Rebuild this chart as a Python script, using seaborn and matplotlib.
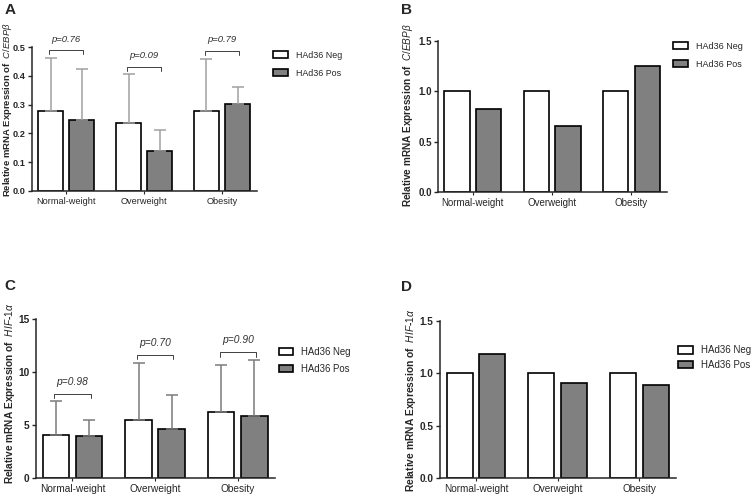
import matplotlib
matplotlib.use("Agg")
import matplotlib.pyplot as plt
import seaborn as sns
import pandas as pd
import numpy as np

groups = ["Normal-weight", "Overweight", "Obesity"]
status = ["HAd36 Neg", "HAd36 Pos"]

# C/EBPb mRNA, mean and SD (panel A)
cebpb_neg_mean = [0.277, 0.237, 0.277]
cebpb_neg_sd = [0.186, 0.168, 0.183]
cebpb_pos_mean = [0.248, 0.140, 0.302]
cebpb_pos_sd = [0.177, 0.073, 0.060]
cebpb_p = ["0.76", "0.09", "0.79"]

# C/EBPb fold change (panel B)
cebpb_neg_fold = [1.0, 1.0, 1.0]
cebpb_pos_fold = [0.82, 0.66, 1.25]

# HIF-1a mRNA, mean and SD (panel C)
hif_neg_mean = [4.02, 5.46, 6.21]
hif_neg_sd = [3.20, 5.43, 4.49]
hif_pos_mean = [3.92, 4.61, 5.84]
hif_pos_sd = [1.57, 3.23, 5.27]
hif_p = ["0.98", "0.70", "0.90"]

# HIF-1a fold change (panel D)
hif_neg_fold = [1.0, 1.0, 1.0]
hif_pos_fold = [1.18, 0.91, 0.89]

sns.set_style("ticks")
plt.rcParams["font.family"] = ["Liberation Sans", "DejaVu Sans"]
plt.rcParams["mathtext.fontset"] = "custom"
plt.rcParams["mathtext.it"] = "Liberation Sans:italic"
plt.rcParams["mathtext.rm"] = "Liberation Sans"

W, H = 753, 498
fig = plt.figure(figsize=(W / 100, H / 100), dpi=100)
palette = {"HAd36 Neg": "white", "HAd36 Pos": "#808080"}


def make_axes(left, bottom, width, height):
    return fig.add_axes([left / W, 1 - bottom / H, width / W, height / H])


def long_frame(neg, pos):
    rows = []
    for g, v in zip(groups, neg):
        rows.append({"group": g, "status": status[0], "value": v})
    for g, v in zip(groups, pos):
        rows.append({"group": g, "status": status[1], "value": v})
    return pd.DataFrame(rows)


def draw_panel(ax, neg, pos, ymax, yticks, fmt, ylabel, label_xy, fs, lab_fs,
               leg_fs, legend_xy, leg_space):
    df = long_frame(neg, pos)
    sns.barplot(data=df, x="group", y="value", hue="status", palette=palette,
                edgecolor="black", linewidth=1.2, gap=0.2, width=0.8,
                errorbar=None, ax=ax)
    ax.set_xlim(-0.44, 2.45)
    ax.set_ylim(0, ymax)
    ax.set_yticks(yticks)
    ax.set_yticklabels([fmt.format(t) for t in yticks], fontweight="bold", fontsize=fs)
    ax.tick_params(axis="x", length=2.2, width=0.8, labelsize=fs, pad=2)
    ax.tick_params(axis="y", length=3, width=1, pad=1.5)
    ax.set_xlabel("")
    ax.set_ylabel(ylabel, fontweight="bold", fontsize=lab_fs)
    ax.yaxis.set_label_coords(*label_xy)
    sns.despine(ax=ax)
    for sp in ["left", "bottom"]:
        ax.spines[sp].set_linewidth(1.1)
    handles, labels = ax.get_legend_handles_labels()
    ax.legend(handles, labels, frameon=False, loc="upper left",
              bbox_to_anchor=legend_xy, fontsize=leg_fs, handlelength=10.5 / leg_fs,
              handleheight=0.8, handletextpad=5.8 / leg_fs, labelspacing=leg_space,
              borderaxespad=0)
    return ax


def add_errors(ax, neg_sd, pos_sd, color):
    for cont, sd in zip(ax.containers[:2], [neg_sd, pos_sd]):
        xs = [b.get_x() + b.get_width() / 2 for b in cont]
        ys = [b.get_height() for b in cont]
        ax.errorbar(xs, ys, yerr=[np.zeros(len(sd)), sd], fmt="none",
                    ecolor=color, elinewidth=1.1, capsize=4.3, capthick=1.1,
                    zorder=1)


def add_pvalues(ax, neg_mean, neg_sd, pos_mean, pos_sd, pvals, offset, drop, fs):
    neg_bars, pos_bars = ax.containers[0], ax.containers[1]
    for i, p in enumerate(pvals):
        x1 = neg_bars[i].get_x() + neg_bars[i].get_width() / 2 - 0.02
        x2 = pos_bars[i].get_x() + pos_bars[i].get_width() / 2 + 0.02
        top = max(neg_mean[i] + neg_sd[i], pos_mean[i] + pos_sd[i]) + offset
        ax.plot([x1, x1, x2, x2], [top - drop, top, top, top - drop],
                color="#404040", lw=0.7, clip_on=False)
        ax.annotate(f"p={p}", ((x1 + x2) / 2, top), xytext=(0, 5),
                    textcoords="offset points", ha="center", va="bottom",
                    fontsize=fs, style="italic", color="#303030")


cebp_label = r"Relative mRNA Expression of  $\it{C/EBP\beta}$"
hif_label = r"Relative mRNA Expression of  $\it{HIF}$-$\it{1\alpha}$"

# A
axA = make_axes(32, 191, 225, 144)
draw_panel(axA, cebpb_neg_mean, cebpb_pos_mean, 0.5, [0, 0.1, 0.2, 0.3, 0.4, 0.5],
           "{:.1f}", cebp_label, (-0.078, 0.565), 6.6, 6.8, 6.4, (1.055, 1.0), 1.05)
add_errors(axA, cebpb_neg_sd, cebpb_pos_sd, "#a0a0a0")
add_pvalues(axA, cebpb_neg_mean, cebpb_neg_sd, cebpb_pos_mean, cebpb_pos_sd,
            cebpb_p, 0.025, 0.012, 6.8)

# B
axB = make_axes(438, 192, 229, 151)
draw_panel(axB, cebpb_neg_fold, cebpb_pos_fold, 1.5, [0, 0.5, 1.0, 1.5],
           "{:.1f}", cebp_label, (-0.10, 0.51), 7.0, 7.2, 6.5, (1.012, 1.02), 1.05)

# C
axC = make_axes(36, 478, 239, 159)
draw_panel(axC, hif_neg_mean, hif_pos_mean, 15, [0, 5, 10, 15],
           "{:.0f}", hif_label, (-0.08, 0.535), 7.3, 7.3, 6.9, (1.0, 0.85), 0.75)
add_errors(axC, hif_neg_sd, hif_pos_sd, "#7a7a7a")
add_pvalues(axC, hif_neg_mean, hif_neg_sd, hif_pos_mean, hif_pos_sd,
            hif_p, 0.75, 0.4, 7.4)

# D
axD = make_axes(440, 478, 236, 157)
draw_panel(axD, hif_neg_fold, hif_pos_fold, 1.5, [0, 0.5, 1.0, 1.5],
           "{:.1f}", hif_label, (-0.093, 0.497), 7.2, 7.4, 7.0, (0.992, 0.87), 0.45)

for lab, x, y in [("A", 10, 10), ("B", 407, 10), ("C", 10, 286), ("D", 407, 287)]:
    fig.text(x / W, 1 - y / H, lab, fontsize=11, fontweight="bold",
             ha="center", va="center")

fig.savefig("out.png", dpi=100)
